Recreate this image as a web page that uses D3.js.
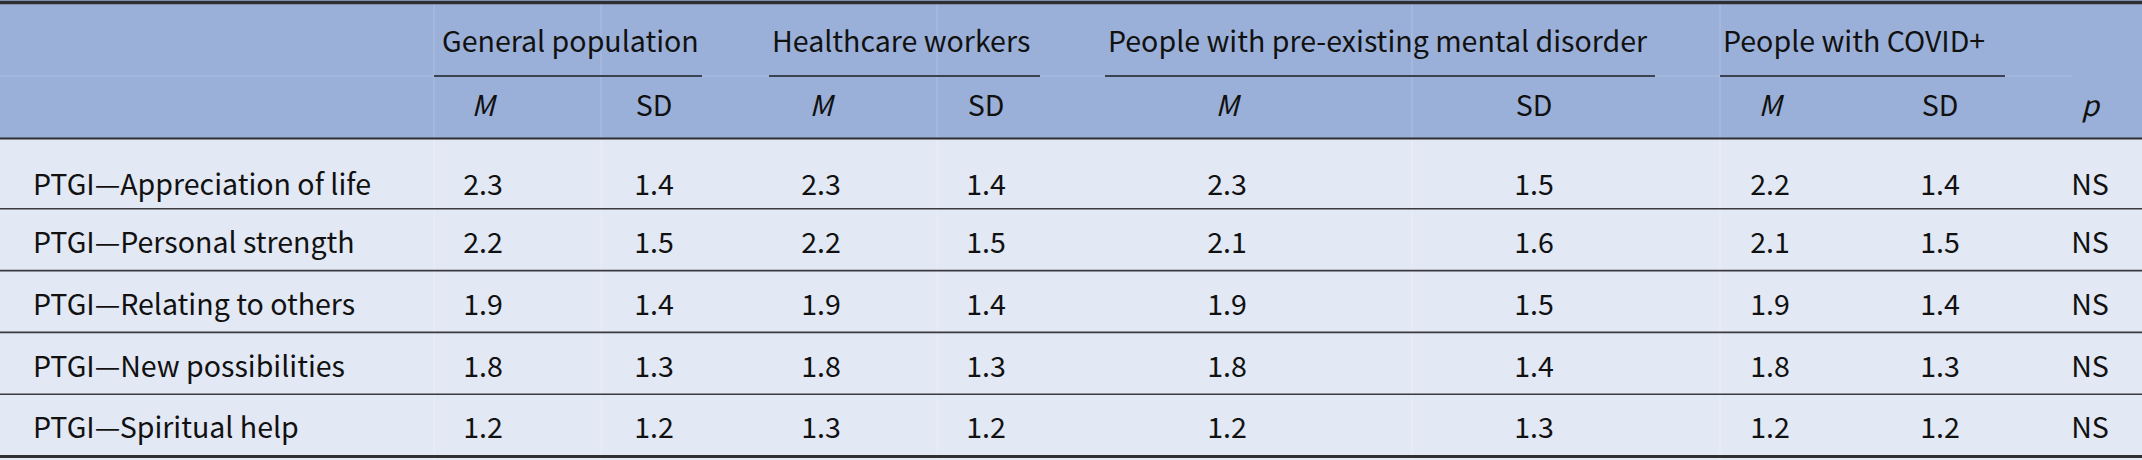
<!DOCTYPE html>
<html>
<head>
<meta charset="utf-8">
<script src="https://cdn.jsdelivr.net/npm/d3@7"></script>
<style>
  html, body { margin: 0; padding: 0; background: #ffffff; overflow: hidden; }
  svg { display: block; }
</style>
</head>
<body>
<div id="chart"></div>
<script>
// ---------------- DATA ----------------
const rowLabels = [
  "PTGI—Appreciation of life",
  "PTGI—Personal strength",
  "PTGI—Relating to others",
  "PTGI—New possibilities",
  "PTGI—Spiritual help"
];
const groupNames = [
  "General population",
  "Healthcare workers",
  "People with pre-existing mental disorder",
  "People with COVID+"
];
const subHeaders = ["M", "SD", "M", "SD", "M", "SD", "M", "SD", "p"];
const genPopM   = [2.3, 2.2, 1.9, 1.8, 1.2];
const genPopSD  = [1.4, 1.5, 1.4, 1.3, 1.2];
const healthM   = [2.3, 2.2, 1.9, 1.8, 1.3];
const healthSD  = [1.4, 1.5, 1.4, 1.3, 1.2];
const mentalM   = [2.3, 2.1, 1.9, 1.8, 1.2];
const mentalSD  = [1.5, 1.6, 1.5, 1.4, 1.3];
const covidM    = [2.2, 2.1, 1.9, 1.8, 1.2];
const covidSD   = [1.4, 1.5, 1.4, 1.3, 1.2];
const pValues   = ["NS", "NS", "NS", "NS", "NS"];

// ---------------- LAYOUT ----------------
const W = 2142, H = 460;
const FONT = "'Noto Sans CJK SC', 'Noto Sans', sans-serif";
const FS = 28.5;
const headerColor = "#9bb0d8";
const bodyColor = "#e2e8f4";
const lineColor = "#2e2e33";

const columns = [
  { key: "gpM",  vals: genPopM },
  { key: "gpSD", vals: genPopSD },
  { key: "hwM",  vals: healthM },
  { key: "hwSD", vals: healthSD },
  { key: "pmM",  vals: mentalM },
  { key: "pmSD", vals: mentalSD },
  { key: "cvM",  vals: covidM },
  { key: "cvSD", vals: covidSD },
  { key: "p",    vals: pValues }
];
const colKeys = columns.map(c => c.key);

const x = d3.scaleOrdinal(colKeys, [483, 654, 821, 986, 1227, 1534, 1770, 1940, 2090]);
const groupSpan = d3.scaleOrdinal(groupNames, [[434, 702], [769, 1040], [1105, 1655], [1720, 2005]]);
const groupTextOffset = d3.scaleOrdinal(groupNames, [8, 3, 3, 3]);
const y = d3.scaleBand(rowLabels, [147, 456]);

const headerBottom = 138.5;
const spanLineY = 76;
const groupTextY = 51.5;
const subTextY = 115.5;
const capHalf = 10.3;

const svg = d3.select("#chart").append("svg")
  .attr("width", W).attr("height", H)
  .attr("font-family", FONT).attr("font-size", FS);

// measure horizontal proportion of the glyphs against the reference width
const probe = svg.append("text").text(groupNames[0]);
const probeW = probe.node().getComputedTextLength();
probe.remove();
const sx = 257 / probeW;

// backgrounds
svg.append("rect").attr("x", 0).attr("y", 0).attr("width", W).attr("height", headerBottom).attr("fill", headerColor);
svg.append("rect").attr("x", 0).attr("y", headerBottom).attr("width", W).attr("height", H - headerBottom).attr("fill", bodyColor);

// faint cell borders
const faintX = [434, 601, 937, 1412, 1720];
svg.selectAll("line.fh").data(faintX).join("line")
  .attr("x1", d => d).attr("x2", d => d).attr("y1", 4).attr("y2", headerBottom)
  .attr("stroke", "#abbde0").attr("stroke-width", 1.2);
svg.selectAll("line.fb").data(faintX).join("line")
  .attr("x1", d => d).attr("x2", d => d).attr("y1", headerBottom).attr("y2", H)
  .attr("stroke", "#e9edf7").attr("stroke-width", 1.2);
svg.append("line").attr("x1", 0).attr("x2", 2072).attr("y1", spanLineY).attr("y2", spanLineY)
  .attr("stroke", "#adbfe2").attr("stroke-width", 1.2);

// rules
svg.append("line").attr("x1", 0).attr("x2", W).attr("y1", 2.5).attr("y2", 2.5)
  .attr("stroke", lineColor).attr("stroke-width", 3.5);
svg.append("line").attr("x1", 0).attr("x2", W).attr("y1", headerBottom).attr("y2", headerBottom)
  .attr("stroke", lineColor).attr("stroke-width", 2);
svg.selectAll("line.row").data(rowLabels.slice(1)).join("line")
  .attr("x1", 0).attr("x2", W)
  .attr("y1", d => y(d)).attr("y2", d => y(d))
  .attr("stroke", "#3a3a40").attr("stroke-width", 1.6);
svg.append("line").attr("x1", 0).attr("x2", W).attr("y1", 456.5).attr("y2", 456.5)
  .attr("stroke", lineColor).attr("stroke-width", 3);

// group underlines
svg.selectAll("line.span").data(groupNames).join("line")
  .attr("x1", d => groupSpan(d)[0]).attr("x2", d => groupSpan(d)[1])
  .attr("y1", spanLineY).attr("y2", spanLineY)
  .attr("stroke", "#3b4252").attr("stroke-width", 2.2);

function place(sel, tx, ty) {
  return sel.attr("transform", (d, i) => `translate(${tx(d, i)},${ty(d, i)}) scale(${sx},1)`);
}
const rowY = i => y(rowLabels[i]) + y.bandwidth() / 2 + 3 + (i === 0 ? 4 : 0) + capHalf;

// group header texts
place(svg.selectAll("text.group").data(groupNames).join("text")
  .attr("fill", "#111").text(d => d),
  d => groupSpan(d)[0] + groupTextOffset(d), () => groupTextY);

// sub headers
place(svg.selectAll("text.sub").data(subHeaders).join("text")
  .attr("fill", "#111").attr("text-anchor", "middle")
  .attr("font-style", d => d === "SD" ? "normal" : "italic")
  .text(d => d),
  (d, i) => x(colKeys[i]), () => subTextY);

// row labels
place(svg.selectAll("text.label").data(rowLabels).join("text")
  .attr("fill", "#111").text(d => d),
  () => 33, (d, i) => rowY(i));

// values
columns.forEach(col => {
  place(svg.selectAll("text.v-" + col.key).data(col.vals).join("text")
    .attr("class", "v-" + col.key)
    .attr("fill", "#111").attr("text-anchor", "middle")
    .text(d => typeof d === "number" ? d3.format(".1f")(d) : d),
    () => x(col.key), (d, i) => rowY(i));
});
</script>
</body>
</html>
